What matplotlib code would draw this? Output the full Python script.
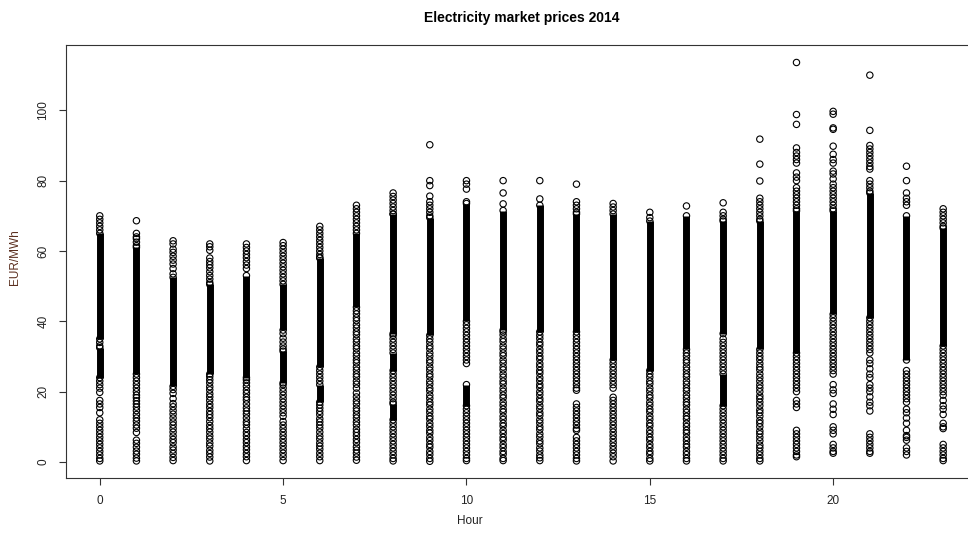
import matplotlib
matplotlib.use("Agg")
import matplotlib.pyplot as plt

plt.rcParams['font.family'] = ['Liberation Sans', 'DejaVu Sans']

# hour of day for every column of the scatter
hours = list(range(24))

# stretches of each column where the hourly prices are packed so tightly
# that the circles merge into one black bar (EUR/MWh, low-high)
bands = [
    [(35, 65), (24, 32.5)],
    [(25, 61)],
    [(21.5, 52.5)],
    [(25, 50.5)],
    [(24, 53)],
    [(37.5, 50.5), (22.5, 31.5)],
    [(27, 58), (17, 22)],
    [(44, 65)],
    [(36.5, 70.5), (26, 31), (12, 16.5)],
    [(36, 69.5)],
    [(40, 73.5), (16, 22)],
    [(37.5, 71.5)],
    [(37, 73)],
    [(37, 70.5)],
    [(29, 70.5)],
    [(26, 68.5)],
    [(32, 70)],
    [(36.5, 68.5), (16, 25)],
    [(32, 68.5)],
    [(31, 71.4)],
    [(42, 71.4)],
    [(41, 76.5)],
    [(29, 70)],
    [(33, 66.5)],
]

# prices that still show as separate circles (EUR/MWh)
p00 = [70, 69, 68, 67, 66, 34, 33, 23, 22, 21, 19.8, 17.5, 16.5, 15.5, 14,
       12, 11, 10, 9, 8, 7, 6, 5, 4, 3, 2, 1, 0.3]
p01 = [68.6, 65, 64, 63.5, 62.5, 61.5, 24, 23, 22, 21, 20, 19, 18.3, 17.4,
       16.5, 15.6, 14.6, 13.5, 12.5, 11.6, 10.5, 9.6, 8.4, 6.2, 5.3, 4.2,
       3.1, 2.2, 1.1, 0.3]
p02 = [62.9, 62, 60.5, 59.6, 58.5, 57.4, 56.3, 55, 53.5, 20.6, 19.5, 18,
       16.6, 15.7, 14.6, 13.6, 12.5, 11.4, 10.5, 9.5, 8.5, 7.4, 6.4, 5.5,
       4.3, 3.4, 2.4, 1.3, 0.4]
p03 = [62, 61.2, 60.2, 58, 57, 56.1, 55.2, 54.1, 53, 52, 51, 24.3, 23.4,
       22.5, 21.4, 20.5, 19.4, 18.5, 17.5, 16.4, 15.5, 14.4, 13.5, 12.6,
       11.5, 10.4, 9.5, 8.5, 7.4, 6.5, 5.4, 4.5, 3.3, 2.4, 1.4, 0.3]
p04 = [62, 61, 60, 59, 58.1, 57, 56, 55, 23.4, 22.5, 21.5, 20.4, 19.5,
       18.4, 17.6, 16.5, 15.4, 14.5, 13.6, 12.5, 11.4, 10.6, 9.5, 8.4, 7.5,
       6.4, 5.5, 4.4, 3.5, 2.4, 1.5, 0.4]
p05 = [62.4, 61.5, 60.5, 59.5, 58.5, 57.5, 56.5, 55.5, 54.5, 53.5, 52.5,
       51.5, 36.5, 35.2, 34.1, 33, 32.1, 22, 21, 20, 19, 18, 17, 16, 15, 14,
       13, 11.5, 10.5, 9.5, 8.5, 7.5, 6.5, 5.5, 4.5, 3.5, 2.5, 1.5, 0.4]
p06 = [67, 66, 65, 64, 63, 62, 61, 60, 59, 58.2, 26, 25, 24, 23, 16.2, 15.3,
       14.4, 13.5, 12.3, 11.4, 10.5, 9.6, 8.5, 7.4, 6.5, 5.4, 4.5, 3.6, 2.5,
       1.5, 0.4]
p07 = [73, 72, 71, 70, 69, 68, 67, 66, 43, 42.1, 41, 40.2, 39, 38.1, 37,
       36.2, 35, 34.1, 33, 32.2, 31, 30.1, 29, 28.2, 27, 26.1, 25, 24.2, 23,
       22.1, 21, 19.6, 18.5, 17.4, 16.5, 15.3, 14.5, 13.4, 12.5, 11.4, 10.5,
       9.3, 8.4, 7.5, 6.4, 5.5, 4.3, 3.4, 2.5, 1.4, 0.5]
p08 = [76.5, 75.5, 74.5, 73.5, 72.5, 71.5, 70.5, 36, 35, 34, 33, 32, 25, 24,
       23, 22, 21, 20, 19, 18, 17, 11, 10, 9, 8, 7, 6, 5, 4, 3, 2, 1, 0.3]
p09 = [90.2, 80, 78.6, 75.6, 74, 73, 72, 71, 70, 35, 34.1, 33, 32.2, 31,
       30.1, 29, 28.2, 27, 26.1, 25, 24.2, 23, 22.1, 21, 20.2, 19, 18.1, 17,
       16.2, 15, 14.1, 13, 12.2, 11, 10.1, 9, 8.2, 7, 6.1, 5, 4.2, 3, 2.1,
       1, 0.2]
p10 = [80, 79, 77.6, 74, 39, 38, 37, 36, 35, 34, 33, 32, 31, 30, 29, 28,
       15, 14, 13, 12, 11, 10, 9, 8, 7, 6, 5, 4, 3, 2, 1, 0.4]
p11 = [80, 76.5, 73.4, 37, 36.1, 35, 34.2, 33, 32.1, 31, 30.2, 29, 28.1,
       27, 26.2, 25, 24.1, 23, 22.2, 21, 20.1, 19, 18.2, 17, 16.1, 15, 14.2,
       13, 12.1, 11, 10.2, 9, 8.1, 7, 6.2, 5, 4.1, 3, 2.2, 1, 0.4]
p12 = [80, 74.8, 36, 35.1, 34, 33.2, 32, 31.1, 30, 29.2, 28, 27.1, 26,
       25.2, 24, 23.1, 22, 21.2, 20, 19.1, 18, 17.2, 16, 15.1, 14, 13.2, 12,
       11.1, 10, 9.2, 8, 7.1, 6, 5.2, 4, 3.1, 2, 1.2, 0.4]
p13 = [79, 74, 73, 72, 71, 36, 35, 34, 33, 32, 31, 30, 29, 28, 27, 26, 25,
       24, 23, 22, 21, 20.4, 16.5, 15.5, 14.5, 13.5, 12.5, 11.5, 10.5, 9.5,
       9, 7, 6, 5, 4, 3, 2, 1, 0.3]
p14 = [73.5, 72.5, 71.5, 28, 27, 26, 25, 24, 23, 22, 21, 18.4, 17.5, 16.5,
       15.5, 14.5, 13.5, 12.5, 11.5, 10.5, 9.5, 8.5, 7.5, 6.5, 5.5, 4.5,
       3.5, 2.5, 1.5, 0.3]
p15 = [71, 69.5, 25, 24.1, 23, 22.2, 21, 20.1, 19, 18.2, 17, 16.1, 15,
       14.2, 13, 12.1, 11, 10.2, 9, 8.1, 7, 6.2, 5, 4.1, 3, 2.2, 1, 0.3]
p16 = [72.8, 31, 30.1, 29, 28.2, 27, 26.1, 25, 24.2, 23, 22.1, 21, 20.2,
       19, 18.1, 17, 16.2, 15, 14.1, 13, 12.2, 11, 10.1, 9, 8.2, 7, 6.1, 5,
       4.2, 3, 2.1, 1, 0.3]
p17 = [73.7, 71, 70, 69, 35, 34, 33, 32, 31, 30, 29, 28, 27, 26, 15, 14,
       13, 12, 11, 10, 9, 8, 7, 6, 5, 4, 3, 2, 1, 0.3]
p18 = [91.8, 84.7, 79.9, 75, 74, 73, 72, 71, 70, 69, 31, 30, 29.1, 28, 27,
       26.2, 25, 24, 23, 21.9, 21, 20, 18.8, 18, 17, 16, 14.8, 14, 13, 11.8,
       11, 10, 8.8, 8, 7, 6, 4.8, 4, 3, 2, 1, 0.3]
p19 = [113.6, 98.8, 96, 89.3, 88, 87, 86, 85, 82.2, 81, 80, 78, 77, 76, 75,
       74, 73, 72, 30, 29, 28, 27, 26, 25, 24, 23, 22, 21, 20, 17.5, 16.5,
       15.5, 9, 8, 7, 6, 5, 4, 3, 2, 1.5]
p20 = [99.7, 98.9, 95, 94.6, 89.8, 87.5, 86, 85, 82.7, 81.9, 80.5, 79, 78,
       77, 76, 75, 74, 73, 72, 41, 40, 39, 38, 37, 36, 35, 34, 33, 32, 31,
       30, 29, 28, 27, 26, 25, 22, 20.5, 19.5, 16.5, 15, 13.5, 10, 9, 8, 5,
       4, 3, 2.5]
p21 = [110, 94.3, 90, 89, 88, 87, 86, 85, 84, 83.3, 80, 79, 78, 77, 40, 39,
       38, 37, 36, 35, 34, 33, 32, 31, 29, 28, 26.5, 25, 24, 22, 21, 20,
       18.5, 17, 16, 14.5, 8, 7, 6, 5, 4, 3, 2.5]
p22 = [84.1, 80, 76.5, 75, 74, 73, 26, 25, 24, 23, 22, 21, 20, 19, 18, 17,
       15, 14, 12.5, 11, 9, 7.5, 7, 6.2, 4, 3, 2]
p23 = [72, 71, 70, 69, 68, 67, 32, 31, 30, 29, 28, 27, 26, 25, 24, 23, 22,
       21, 20, 19, 17.5, 16, 15, 13.5, 11, 10, 9.5, 5, 4, 3, 2, 1, 0.4]

prices = [p00, p01, p02, p03, p04, p05, p06, p07, p08, p09, p10, p11,
          p12, p13, p14, p15, p16, p17, p18, p19, p20, p21, p22, p23]

x_ticks = [0, 5, 10, 15, 20]
y_ticks = [0, 20, 40, 60, 80, 100]

fig = plt.figure(figsize=(9.68, 5.35), dpi=100)
ax = fig.add_axes([0.0682, 0.1065, 0.941, 0.8093])

for h, bb, pp in zip(hours, bands, prices):
    for lo, hi in bb:
        ax.vlines(h, lo, hi, colors='black', linewidth=5.0)
        ax.scatter([h, h], [lo, hi], s=21, facecolors='none',
                   edgecolors='black', linewidths=0.8)
    ax.scatter([h] * len(pp), pp, s=21, facecolors='none',
               edgecolors='black', linewidths=0.8)

ax.set_xlim(-0.92, 23.92)
ax.set_ylim(-4.56, 118.56)

for side in ['left', 'bottom', 'right', 'top']:
    ax.spines[side].set_color('#333333')
    ax.spines[side].set_linewidth(0.8)

ax.set_xticks(x_ticks)
ax.set_xticklabels([str(v) for v in x_ticks])
ax.set_yticks(y_ticks)
ax.set_yticklabels([str(v) for v in y_ticks], rotation=90, va='center')
ax.tick_params(axis='both', length=5, width=0.8, color='#333333',
               labelsize=8.5, labelcolor='#222222', pad=7)

fig.text(0.539, 0.966, "Electricity market prices 2014", ha='center',
         va='center', fontsize=10, fontweight='bold')
fig.text(0.485, 0.015, "Hour", ha='center', va='bottom', fontsize=8.5,
         color='#222222')
fig.text(0.016, 0.52, "EUR/MWh", ha='center', va='center', rotation=90,
         fontsize=8.5, color='#5a2e1e')

fig.savefig("out.png", dpi=100)
